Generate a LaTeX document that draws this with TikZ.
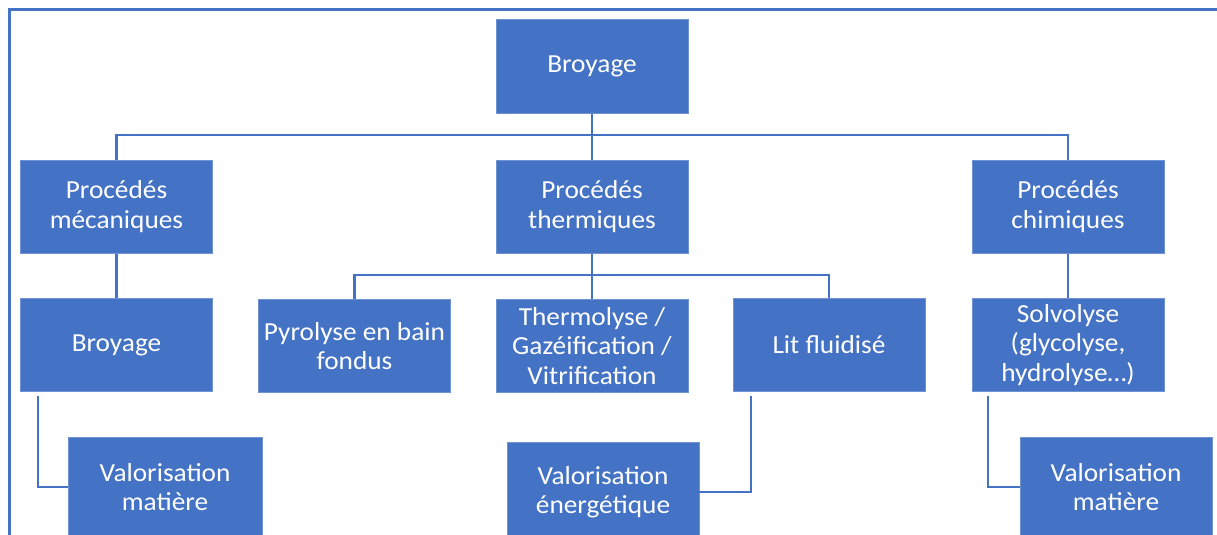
\documentclass[tikz,border=0pt]{standalone}
\usepackage{fontspec}
\setmainfont[FakeStretch=1.05]{Carlito}
\definecolor{boxblue}{HTML}{4472C4}
\definecolor{edgeblue}{HTML}{6F93D2}
\definecolor{lineblue}{HTML}{4472C4}
\begin{document}
\begin{tikzpicture}[x=0.75pt,y=-0.75pt,
  box/.style={fill=boxblue, draw=edgeblue, line width=0.5pt, text=white,
    align=center, minimum width=144pt, minimum height=70pt, inner sep=0pt,
    font=\fontsize{19.5}{22}\selectfont},
  lowbox/.style={box, minimum height=74pt},
  conn/.style={draw=lineblue, line width=1.7pt},
  frame/.style={draw=lineblue, line width=2.2pt}]
\path[use as bounding box] (0,0) rectangle (1217,535);
\begin{scope}
\clip (0,0) rectangle (1217,535);
% outer frame, open to the right and bottom
\draw[frame] (9.5,560) -- (9.5,9.5) -- (1240,9.5);

% top level
\node[box] (top) at (592,66.5) {Broyage};

% process families
\node[box] (mec) at (116.5,206.5) {Procédés\\mécaniques};
\node[box] (the) at (592,206.5) {Procédés\\thermiques};
\node[box] (chi) at (1068,206.5) {Procédés\\chimiques};

% processes
\node[box] (broy) at (116.5,345) {Broyage};
\node[box] (pyr) at (354.5,346) {Pyrolyse en bain\\fondus};
\node[box] (ther) at (592,346) {Thermolyse /\\Gazéification /\\Vitrification};
\node[box] (lit) at (829,345) {Lit fluidisé};
\node[box] (sol) at (1068,345) {Solvolyse\\(glycolyse,\\hydrolyse…)};

% outcomes
\node[lowbox, minimum width=145.5pt] (valm) at (165,487) {Valorisation\\matière};
\node[lowbox] (vale) at (603,492) {Valorisation\\énergétique};
\node[lowbox] (valc) at (1116,487) {Valorisation\\matière};

% tree connectors
\coordinate (j1) at (592,135);
\draw[conn] (top.south) -- (j1);
\draw[conn] (j1) -| (mec.north);
\draw[conn] (j1) -- (the.north);
\draw[conn] (j1) -| (chi.north);

\coordinate (j2) at (592,275);
\draw[conn] (the.south) -- (j2);
\draw[conn] (j2) -| (pyr.north);
\draw[conn] (j2) -- (ther.north);
\draw[conn] (j2) -| (lit.north);

\draw[conn] (mec.south) -- (broy.north);
\draw[conn] (chi.south) -- (sol.north);

% elbow connectors to outcomes
\draw[conn] ([xshift=13.5pt,yshift=-3pt]broy.south west) |- (valm.west);
\draw[conn] ([xshift=13.5pt,yshift=-3pt]lit.south west) |- (vale.east);
\draw[conn] ([xshift=12pt,yshift=-3pt]sol.south west) |- (valc.west);
\end{scope}
\end{tikzpicture}
\end{document}
